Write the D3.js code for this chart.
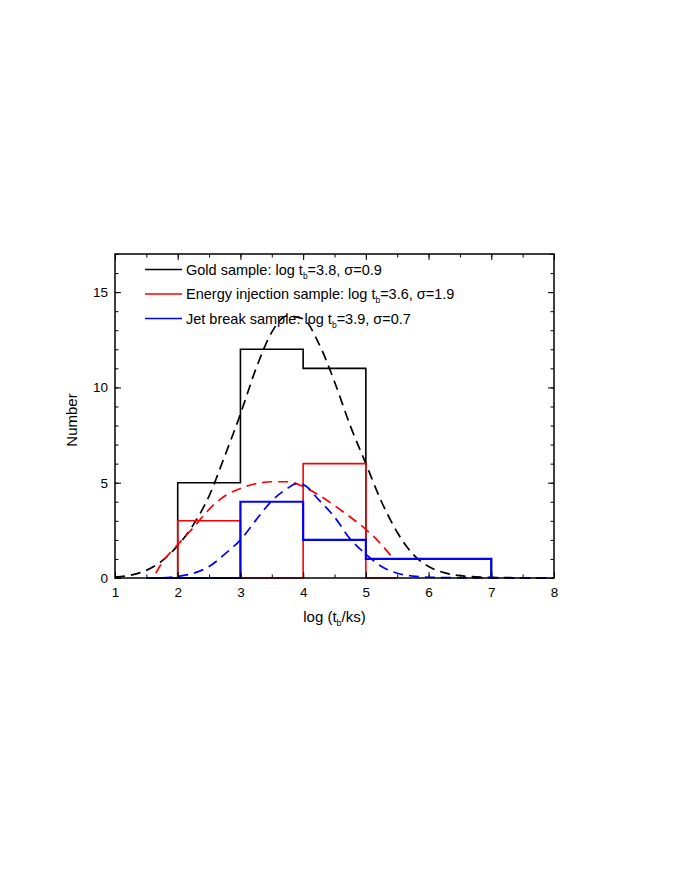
<!DOCTYPE html>
<html><head><meta charset="utf-8">
<script src="https://cdn.jsdelivr.net/npm/d3@7"></script>
<style>body{margin:0;background:#fff} svg{display:block} text{font-family:"Liberation Sans",Arial,sans-serif}</style>
</head><body><svg id="c" width="680" height="880"></svg>
<script>
// ---- data ----
const xTickValues = [1, 2, 3, 4, 5, 6, 7, 8];
const yTickValues = [0, 5, 10, 15];

const goldEdges = [2, 3, 4, 5, 7];
const goldCounts = [5, 12, 11, 1];
const energyEdges = [2, 3, 4, 5, 5.5];
const energyCounts = [3, 0, 6, 0];
const jetEdges = [1.5, 3, 4, 5, 7];
const jetCounts = [0, 4, 2, 1];

const goldFitX = [1.0,1.25,1.5,1.75,2.0,2.25,2.5,2.75,3.0,3.25,3.5,3.75,4.0,4.25,4.5,4.75,5.0,5.25,5.5,5.75,6.0,6.25,6.5,6.75,7.0,7.5,8.0];
const goldFitY = [0.05,0.15,0.4,0.9,1.7,2.8,4.3,6.4,8.6,11.0,12.9,13.75,13.6,12.3,10.3,8.0,6.0,4.0,2.4,1.25,0.6,0.28,0.12,0.06,0.03,0.01,0];
const energyFitX = [1.65,1.75,2.0,2.25,2.5,2.75,3.0,3.25,3.5,3.75,4.0,4.25,4.5,4.75,5.0,5.25,5.45];
const energyFitY = [0.25,0.8,1.75,2.65,3.6,4.3,4.7,4.95,5.05,5.05,4.8,4.35,3.8,3.2,2.55,1.75,0.95];
const jetFitX = [1.5,1.75,2.0,2.25,2.5,2.75,3.0,3.25,3.5,3.75,3.9,4.0,4.25,4.5,4.75,5.0,5.25,5.5,5.75,6.0,6.5,7.0,7.5,8.0];
const jetFitY = [0,0.01,0.08,0.25,0.6,1.25,2.0,3.05,4.05,4.7,4.95,4.9,4.1,3.2,2.05,1.25,0.6,0.25,0.1,0.04,0.01,0,0,0];

const seriesNames = ["Gold sample", "Energy injection sample", "Jet break sample"];
const seriesMu = ["3.8", "3.6", "3.9"];
const seriesSigma = ["0.9", "1.9", "0.7"];
const seriesColors = ["#000000", "#ff0000", "#0000ff"];

// ---- layout ----
const svg = d3.select("#c");
const L = 115, R = 554, T = 254, B = 578;
const x = d3.scaleLinear().domain([1, 8]).range([L, R]);
const y = d3.scaleLinear().domain([0, 17]).range([B, T]);

function stepPoints(edges, counts) {
  const pts = [[edges[0], 0]];
  counts.forEach((c, i) => { pts.push([edges[i], c]); pts.push([edges[i + 1], c]); });
  pts.push([edges[edges.length - 1], 0]);
  return pts;
}
const stepLine = d3.line().x(d => x(d[0])).y(d => y(d[1]));
const fitLine = d3.line().x(d => x(d[0])).y(d => y(d[1])).curve(d3.curveMonotoneX);

const hists = [[goldEdges, goldCounts], [energyEdges, energyCounts], [jetEdges, jetCounts]];
const fits = [[goldFitX, goldFitY], [energyFitX, energyFitY], [jetFitX, jetFitY]];
const histW = [1.6, 1.6, 2.2];

const plot = svg.append("g");
hists.forEach((h, i) => {
  plot.append("path").attr("d", stepLine(stepPoints(h[0], h[1])))
    .attr("fill", "none").attr("stroke", seriesColors[i]).attr("stroke-width", histW[i]);
  const f = fits[i];
  plot.append("path").attr("d", fitLine(f[0].map((v, k) => [v, f[1][k]])))
    .attr("fill", "none").attr("stroke", seriesColors[i]).attr("stroke-width", 1.7)
    .attr("stroke-dasharray", "10,6");
});

// ---- axes ----
const xMinor = d3.range(1, 8.01, 0.5);
const yMinor = d3.range(0, 17.01, 1);
const axStyle = g => { g.select(".domain").remove(); g.selectAll("line").attr("stroke", "#000").attr("stroke-width", 1); g.selectAll("text").attr("font-size", 13.5).attr("fill", "#000"); };

svg.append("g").attr("transform", `translate(0,${B})`)
  .call(d3.axisBottom(x).tickValues(xMinor).tickSize(-3.5).tickFormat("")).call(axStyle);
svg.append("g").attr("transform", `translate(0,${B})`)
  .call(d3.axisBottom(x).tickValues(xTickValues).tickSize(-6).tickPadding(9).tickFormat(d3.format("d"))).call(axStyle);
svg.append("g").attr("transform", `translate(0,${T})`)
  .call(d3.axisTop(x).tickValues(xMinor).tickSize(-3.5).tickFormat("")).call(axStyle);
svg.append("g").attr("transform", `translate(0,${T})`)
  .call(d3.axisTop(x).tickValues(xTickValues).tickSize(-6).tickFormat("")).call(axStyle);

svg.append("g").attr("transform", `translate(${L},0)`)
  .call(d3.axisLeft(y).tickValues(yMinor).tickSize(-3.5).tickFormat("")).call(axStyle);
svg.append("g").attr("transform", `translate(${L},0)`)
  .call(d3.axisLeft(y).tickValues(yTickValues).tickSize(-6).tickPadding(7).tickFormat(d3.format("d"))).call(axStyle);
svg.append("g").attr("transform", `translate(${R},0)`)
  .call(d3.axisRight(y).tickValues(yMinor).tickSize(-3.5).tickFormat("")).call(axStyle);
svg.append("g").attr("transform", `translate(${R},0)`)
  .call(d3.axisRight(y).tickValues(yTickValues).tickSize(-6).tickFormat("")).call(axStyle);

svg.append("rect").attr("x", L).attr("y", T).attr("width", R - L).attr("height", B - T)
  .attr("fill", "none").attr("stroke", "#000").attr("stroke-width", 1.5);

// ---- axis titles ----
svg.append("text").attr("transform", `translate(77,${(T + B) / 2 + 4}) rotate(-90)`)
  .attr("text-anchor", "middle").attr("font-size", 15).text("Number");
const xt = svg.append("text").attr("x", (L + R) / 2).attr("y", 622).attr("text-anchor", "middle").attr("font-size", 15);
xt.append("tspan").text("log (t");
xt.append("tspan").attr("font-size", 9).attr("dy", 4).text("b");
xt.append("tspan").attr("dy", -4).text("/ks)");

// ---- legend ----
const lg = svg.append("g");
seriesNames.forEach((n, i) => {
  const yy = 269.5 + i * 24.5;
  lg.append("line").attr("x1", 145).attr("x2", 182).attr("y1", yy).attr("y2", yy)
    .attr("stroke", seriesColors[i]).attr("stroke-width", 1.6);
  const t = lg.append("text").attr("x", 186).attr("y", yy + 5).attr("font-size", 14.5).attr("fill", "#000");
  t.append("tspan").text(`${n}: log t`);
  t.append("tspan").attr("font-size", 8.5).attr("dy", 4).text("b");
  t.append("tspan").attr("dy", -4).text(`=${seriesMu[i]}, \u03c3=${seriesSigma[i]}`);
});
</script></body></html>
